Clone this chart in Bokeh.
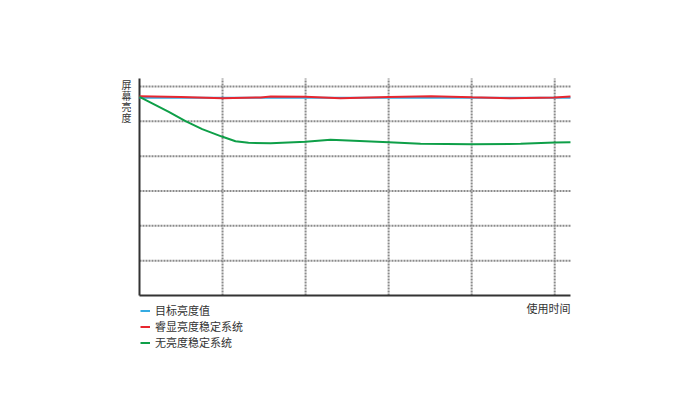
from bokeh.plotting import figure
from bokeh.models import Range1d, Legend, LegendItem
from bokeh.core.properties import value
from bokeh.embed import file_html
from bokeh.resources import INLINE

# ---- data ----
x_end = 5.19          # right end of the x axis
y_end = 6.23          # top end of the y axis
x_grid = [1, 2, 3, 4, 5]
y_grid = [1, 2, 3, 4, 5, 6]

target_x = [0, 5.19]
target_y = [5.68, 5.68]

red_x = [0, 0.5, 1.0, 1.46, 1.58, 2.0, 2.42, 3.0, 3.51, 4.0, 4.47, 5.0, 5.19]
red_y = [5.72, 5.70, 5.665, 5.685, 5.713, 5.705, 5.665, 5.70, 5.722, 5.69, 5.665, 5.685, 5.715]

green_x = [0, 0.353, 0.554, 0.755, 1.0, 1.156, 1.313, 1.58, 2.0, 2.30, 3.0, 3.385, 4.0, 4.59, 5.0, 5.19]
green_y = [5.705, 5.274, 5.004, 4.775, 4.556, 4.43, 4.384, 4.37, 4.413, 4.47, 4.401, 4.355, 4.344, 4.355, 4.393, 4.401]

series_names = ["目标亮度值", "睿显亮度稳定系统", "无亮度稳定系统"]
series_colors = ["#35ABE2", "#E8262F", "#0E9F48"]
y_title_chars = ["屏", "幕", "亮", "度"]
x_title = "使用时间"

FONT = "Noto Sans CJK SC"
TXT = "#333333"
W, H = 672, 404
# frame covers the whole canvas; axes/grid are drawn in data space
PX_X, PX_Y = 83.04, 34.83    # pixels per unit
OX, OY = 139, 295            # pixel position of data origin

p = figure(width=W, height=H, output_backend="svg", toolbar_location=None,
           x_range=Range1d(-OX / PX_X, (W - OX) / PX_X),
           y_range=Range1d(-(H - OY) / PX_Y, OY / PX_Y),
           x_axis_location=None, y_axis_location=None,
           min_border=0, min_border_left=0, min_border_right=0,
           min_border_top=0, min_border_bottom=0)
p.outline_line_color = None
p.xgrid.visible = False
p.ygrid.visible = False

# dotted grid
GRID = dict(line_color="#8a8a8a", line_width=2, line_dash="2 1")
p.segment(x0=x_grid, y0=[0] * len(x_grid), x1=x_grid, y1=[y_end] * len(x_grid), **GRID)
p.segment(x0=[0] * len(y_grid), y0=y_grid, x1=[x_end] * len(y_grid), y1=y_grid, **GRID)

# axis lines
p.segment(x0=[0, 0], y0=[0, 0], x1=[x_end, 0], y1=[0, y_end],
          line_color="#333333", line_width=2)

r_blue = p.line(target_x, target_y, line_color=series_colors[0], line_width=2)
r_red = p.line(red_x, red_y, line_color=series_colors[1], line_width=2)
r_green = p.line(green_x, green_y, line_color=series_colors[2], line_width=2)

legend = Legend(items=[LegendItem(label=series_names[0], renderers=[r_blue]),
                       LegendItem(label=series_names[1], renderers=[r_red]),
                       LegendItem(label=series_names[2], renderers=[r_green])],
                location=(140, 54), orientation="vertical",
                glyph_width=10, glyph_height=15, label_height=15,
                label_standoff=5, spacing=0, padding=0, margin=0,
                border_line_color=None, background_fill_alpha=0,
                label_text_font=FONT, label_text_font_size="11px",
                label_text_color=TXT)
p.add_layout(legend, "center")

# y title, stacked characters
ys = [6.072, 5.756, 5.440, 5.124]
p.text(x=[-0.157] * 4, y=ys, text=y_title_chars, text_font=value(FONT),
       text_font_size="10px", text_color=TXT,
       text_align="center", text_baseline="middle")

p.text(x=[x_end], y=[-0.373], text=[x_title], text_font=value(FONT),
       text_font_size="11px", text_color=TXT,
       text_align="right", text_baseline="middle")

open("out.html", "w").write(file_html(p, INLINE))
